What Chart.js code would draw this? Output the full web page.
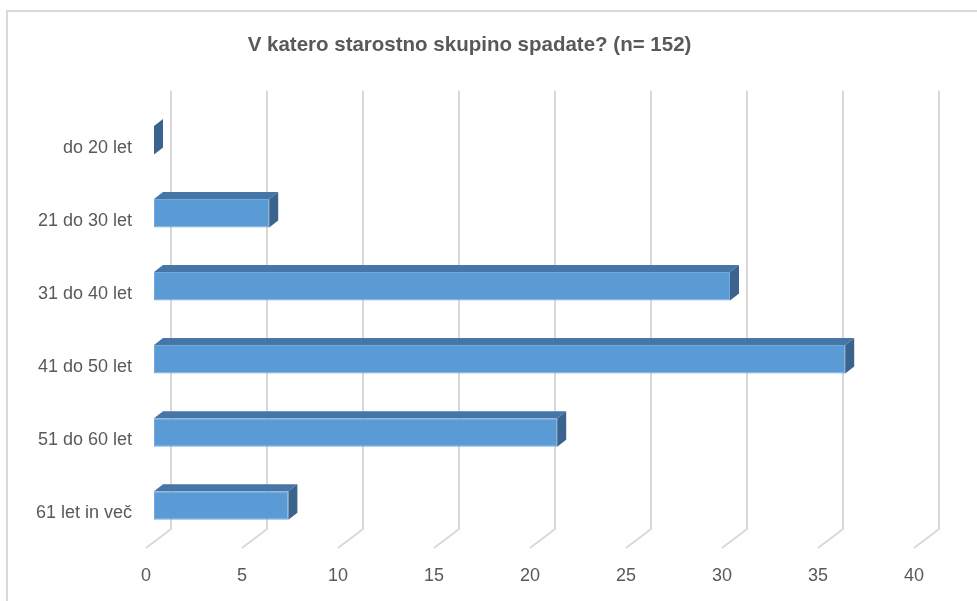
<!DOCTYPE html>
<html lang="sl">

<head>
    <meta charset="UTF-8">
    <meta name="viewport" content="width=device-width, initial-scale=1.0">
    <title>Starostne skupine</title>
    <script src="https://cdn.jsdelivr.net/npm/chart.js@4.4.1/dist/chart.umd.min.js"></script>
    <style>
        body {
            margin: 0;
            background-color: #fff;
        }

        #chartContainer {
            width: 977px;
            height: 601px;
            position: relative;
        }
    </style>
</head>

<body>
    <div id="chartContainer">
        <canvas id="myChart"></canvas>
    </div>

    <script>
        const chartTitle = 'V katero starostno skupino spadate? (n= 152)';
        const categories = ['do 20 let', '21 do 30 let', '31 do 40 let', '41 do 50 let', '51 do 60 let', '61 let in več'];
        const values = [0, 6, 30, 36, 21, 7];
        const axisMin = 0, axisMax = 40, axisStep = 5;

        const textColor = '#595959';
        const gridColor = '#D9D9D9';
        const frontColor = '#5B9BD5';
        const topColor = '#4676A7';
        const sideColor = '#3A648E';
        // depth of the bars and of the floor (3D look)
        const barDx = 9, barDy = -7;
        const wallDx = 17, wallDy = -13;
        const floorDx = -8, floorDy = 6;

        const ctx = document.getElementById('myChart').getContext('2d');

        // frame and 3D grid behind the bars
        const backdrop = {
            id: 'backdrop',
            beforeDatasetsDraw(chart)
            {
                const c = chart.ctx;
                const area = chart.chartArea;
                const xScale = chart.scales.x;

                c.save();
                c.strokeStyle = gridColor;
                c.lineWidth = 2;
                c.beginPath();
                c.moveTo(7, chart.height);
                c.lineTo(7, 11);
                c.lineTo(chart.width, 11);
                c.stroke();

                for (let v = axisMin; v <= axisMax; v += axisStep)
                {
                    const px = xScale.getPixelForValue(v);
                    c.beginPath();
                    c.moveTo(px + wallDx, area.top + wallDy);
                    c.lineTo(px + wallDx, area.bottom + wallDy);
                    c.lineTo(px + floorDx, area.bottom + floorDy);
                    c.stroke();
                }
                c.restore();
            }
        };

        // top and side faces of every bar
        const barFaces = {
            id: 'barFaces',
            afterDatasetsDraw(chart)
            {
                const c = chart.ctx;
                const meta = chart.getDatasetMeta(0);
                c.save();
                meta.data.forEach(bar =>
                {
                    const top = bar.y - bar.height / 2;
                    const bottom = bar.y + bar.height / 2;

                    c.fillStyle = topColor;
                    c.beginPath();
                    c.moveTo(bar.base, top);
                    c.lineTo(bar.x, top);
                    c.lineTo(bar.x + barDx, top + barDy);
                    c.lineTo(bar.base + barDx, top + barDy);
                    c.closePath();
                    c.fill();

                    c.fillStyle = sideColor;
                    c.beginPath();
                    c.moveTo(bar.x, top);
                    c.lineTo(bar.x + barDx, top + barDy);
                    c.lineTo(bar.x + barDx, bottom + barDy);
                    c.lineTo(bar.x, bottom);
                    c.closePath();
                    c.fill();
                });
                c.restore();
            }
        };

        Chart.defaults.font.family = "'Liberation Sans', Arial, sans-serif";
        Chart.defaults.color = textColor;

        const chart = new Chart(ctx, {
            type: 'bar',
            data: {
                labels: categories,
                datasets: [
                    {
                        data: values,
                        backgroundColor: frontColor,
                        borderColor: '#73AADD',
                        borderWidth: 1,
                        borderSkipped: false,
                        categoryPercentage: 1,
                        barPercentage: 0.39
                    }
                ]
            },
            plugins: [backdrop, barFaces],
            options: {
                indexAxis: 'y',
                responsive: true,
                maintainAspectRatio: false,
                animation: false,
                layout: {
                    padding: { left: 17, right: 55, top: 0, bottom: 0 }
                },
                scales: {
                    x: {
                        min: axisMin,
                        max: axisMax,
                        grid: { display: false, drawTicks: false },
                        border: { display: false },
                        ticks: {
                            stepSize: axisStep,
                            padding: 23,
                            labelOffset: floorDx,
                            font: { size: 18 },
                            color: textColor
                        },
                        afterFit(scale)
                        {
                            scale.height = 59;
                        }
                    },
                    y: {
                        grid: { display: false, drawTicks: false },
                        border: { display: false },
                        ticks: {
                            padding: 22,
                            labelOffset: 7.5,
                            font: { size: 18 },
                            color: textColor
                        },
                        afterFit(scale)
                        {
                            scale.width = 137;
                        }
                    }
                },
                plugins: {
                    legend: { display: false },
                    tooltip: { enabled: false },
                    title: {
                        display: true,
                        text: chartTitle,
                        color: textColor,
                        font: { size: 20.5, weight: 'bold' },
                        padding: { top: 33, bottom: 46 }
                    }
                }
            }
        });
    </script>
</body>

</html>
